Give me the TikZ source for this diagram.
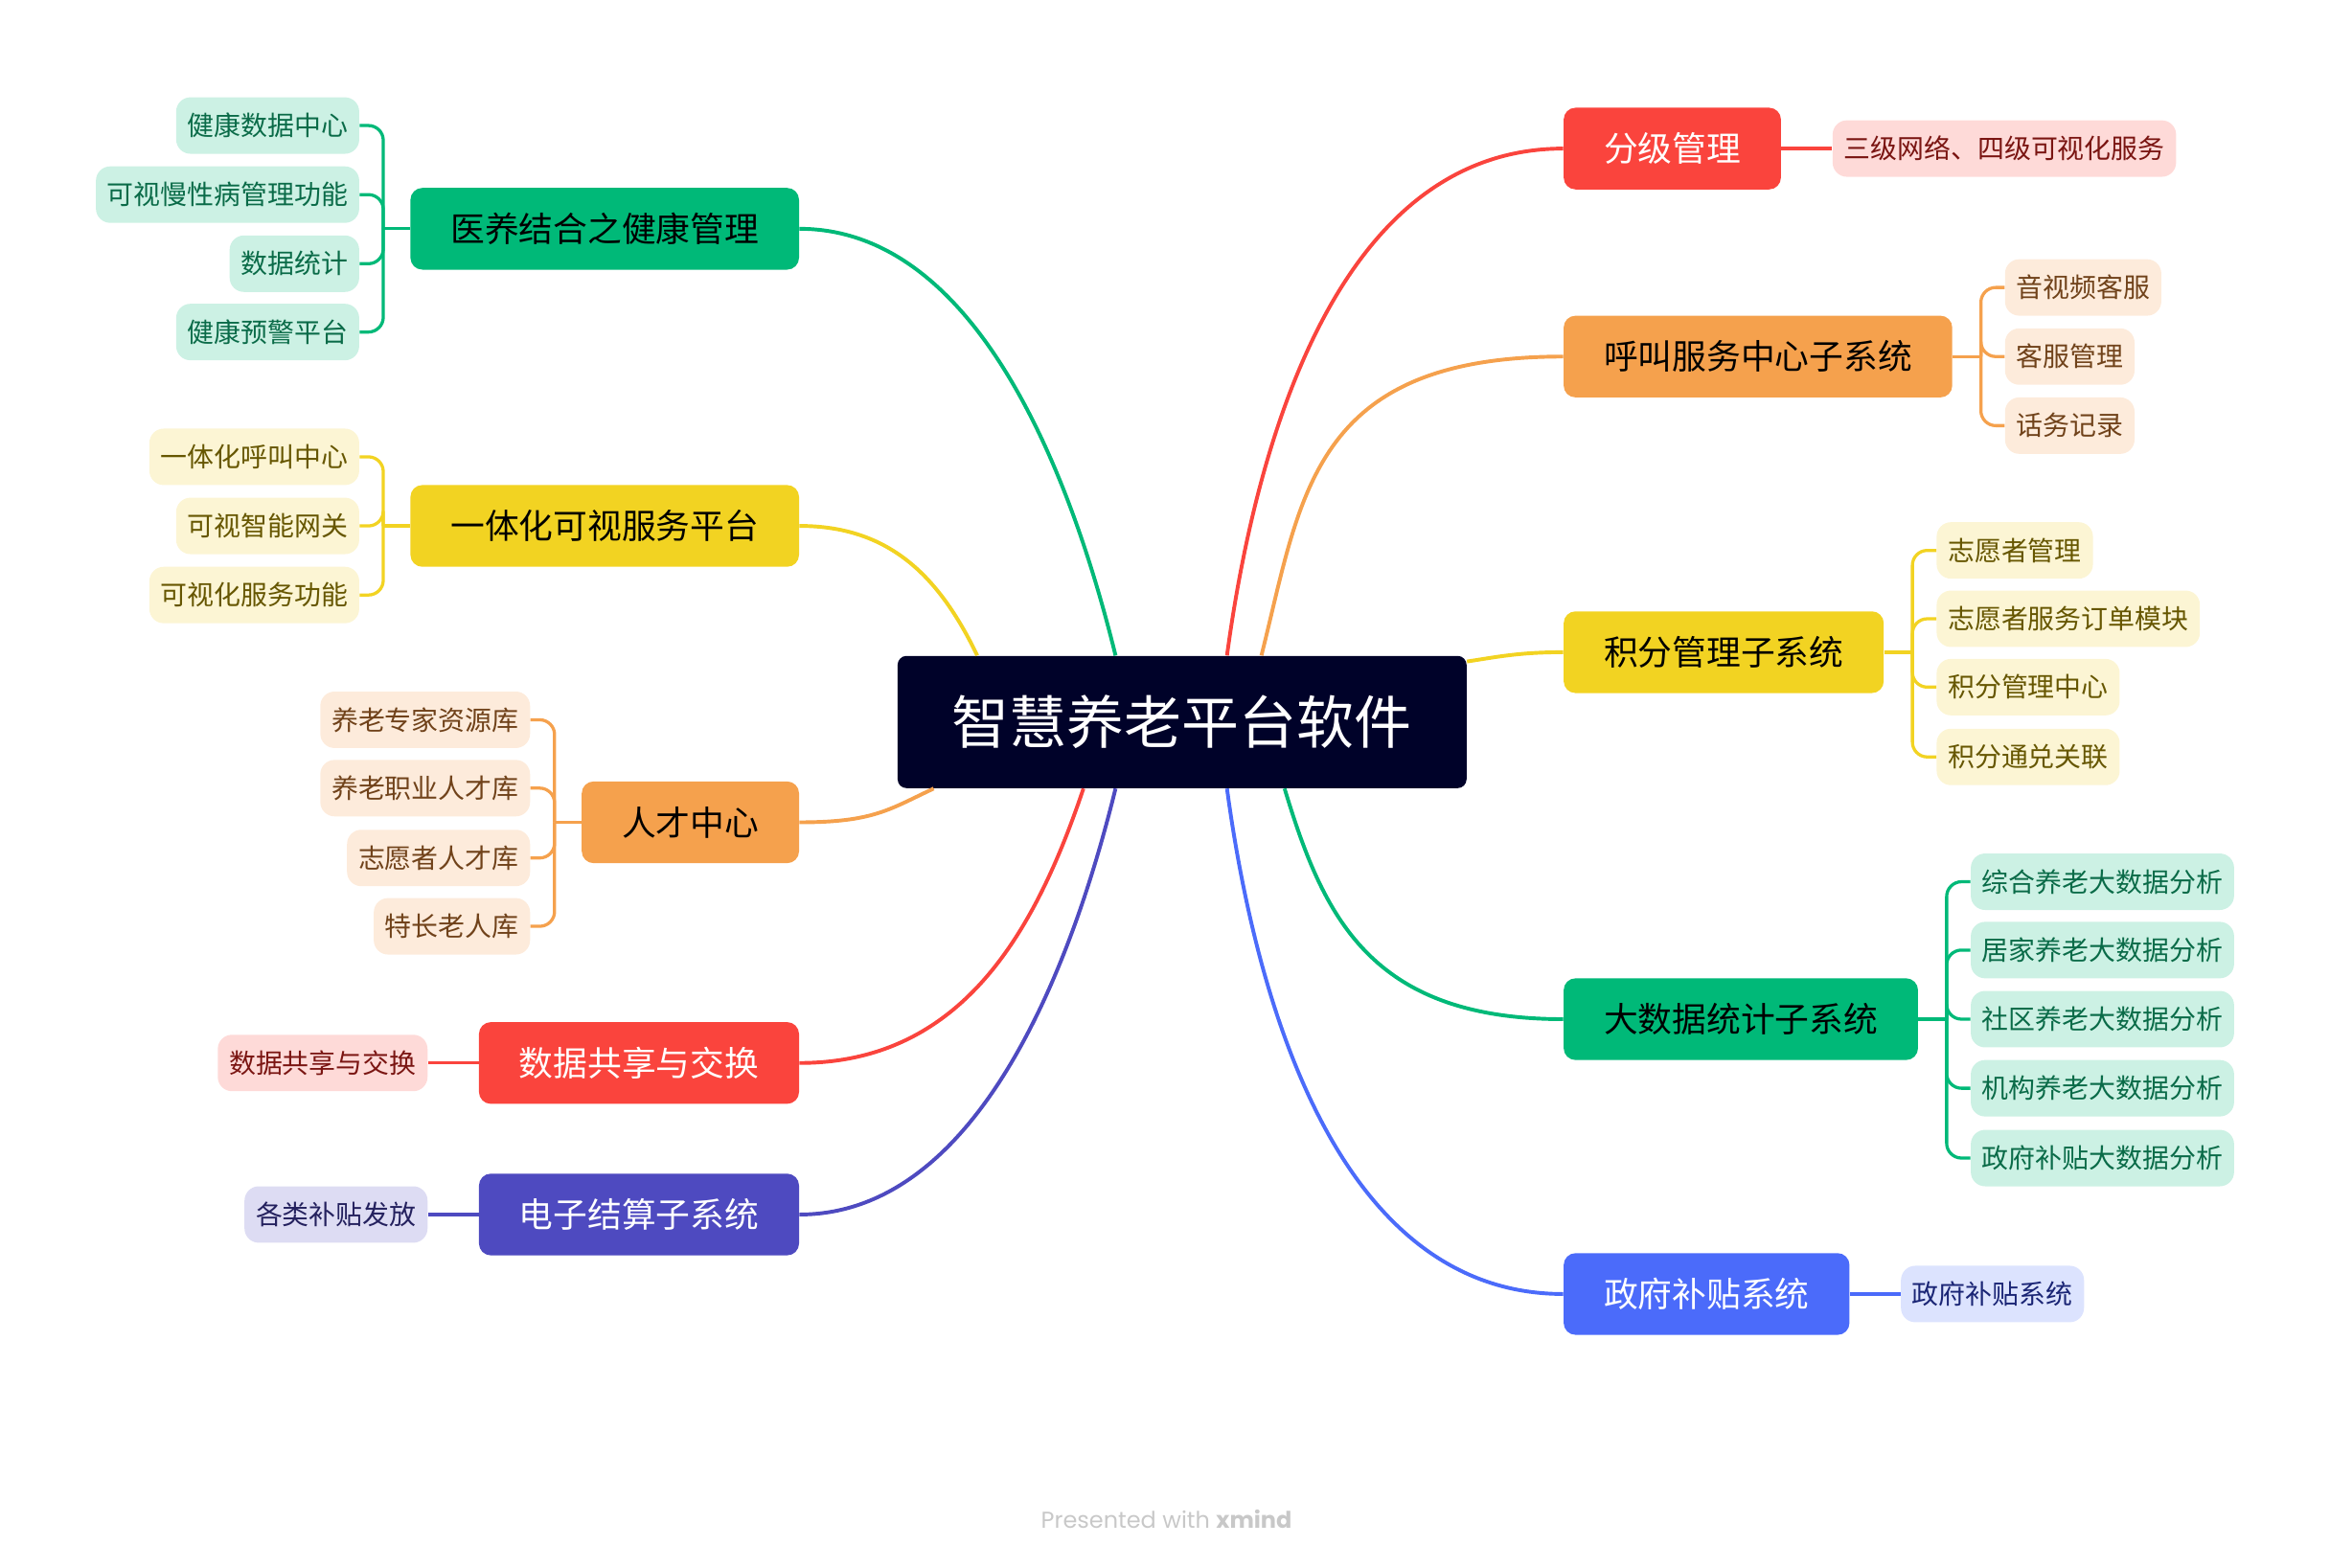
\documentclass[tikz,border=0pt]{standalone}
\usepackage{fontspec}
\setmainfont{Noto Sans CJK SC}
\newfontfamily\wmfont{Poppins}

\definecolor{rootc}{HTML}{000229}
\definecolor{grn}{HTML}{00B978}
\definecolor{grnl}{HTML}{CCF1E4}
\definecolor{grnt}{HTML}{0A6B48}
\definecolor{ylw}{HTML}{F2D322}
\definecolor{ylwl}{HTML}{FCF5D4}
\definecolor{ylwt}{HTML}{665600}
\definecolor{org}{HTML}{F5A14D}
\definecolor{orgl}{HTML}{FDEBDB}
\definecolor{orgt}{HTML}{70421A}
\definecolor{rd}{HTML}{FA443D}
\definecolor{rdl}{HTML}{FEDAD8}
\definecolor{rdt}{HTML}{7A1512}
\definecolor{ind}{HTML}{4E4AC0}
\definecolor{indl}{HTML}{DDDCF3}
\definecolor{indt}{HTML}{24215E}
\definecolor{blu}{HTML}{4B6BFA}
\definecolor{blul}{HTML}{DCE3FE}
\definecolor{blut}{HTML}{1A2575}
\definecolor{wm}{HTML}{C8C8C8}

\begin{document}
\begin{tikzpicture}[x=0.25mm,y=-0.25mm,every node/.style={inner ysep=0pt},
    rootbox/.style={fill=rootc, text=white, rounded corners=1.5mm, minimum height=22.25mm, inner xsep=9.2mm, font=\fontsize{27.5}{30}\selectfont},
    mainbox/.style={rounded corners=2mm, minimum height=13.75mm, inner xsep=6.75mm, font=\fontsize{16.4}{18}\selectfont},
    subbox/.style={rounded corners=2.4mm, minimum height=9.5mm, inner xsep=1.9mm, font=\fontsize{12.8}{14}\selectfont},
    mainG/.style={mainbox, fill=grn},
    mainY/.style={mainbox, fill=ylw},
    mainO/.style={mainbox, fill=org},
    mainR/.style={mainbox, fill=rd, text=white},
    mainI/.style={mainbox, fill=ind, text=white},
    mainB/.style={mainbox, fill=blu, text=white},
    subG/.style={subbox, fill=grnl, text=grnt},
    subY/.style={subbox, fill=ylwl, text=ylwt},
    subO/.style={subbox, fill=orgl, text=orgt},
    subR/.style={subbox, fill=rdl, text=rdt},
    subI/.style={subbox, fill=indl, text=indt},
    subB/.style={subbox, fill=blul, text=blut},
    lnk/.style={line width=1.8pt},
    frk/.style={line width=1.5pt, rounded corners=2.5mm}]
    \useasboundingbox (0,0) rectangle (1568,1054.8);

    \node (root)[rootbox] at (795.5,486) {智慧养老平台软件};

    % left side
    \node (hm)[mainG, anchor=east] at (538,154) {医养结合之健康管理};
    \node (yt)[mainY, anchor=east] at (538,354) {一体化可视服务平台};
    \node (rc)[mainO, anchor=east] at (538,553.5) {人才中心};
    \node (sj)[mainR, anchor=east] at (538,715.5) {数据共享与交换};
    \node (dz)[mainI, anchor=east] at (538,817.5) {电子结算子系统};

    \node (hm1)[subG, anchor=east] at (242,84.5)  {健康数据中心};
    \node (hm2)[subG, anchor=east] at (242,131)   {可视慢性病管理功能};
    \node (hm3)[subG, anchor=east] at (242,177.5) {数据统计};
    \node (hm4)[subG, anchor=east] at (242,223.5) {健康预警平台};

    \node (yt1)[subY, anchor=east] at (242,307.5) {一体化呼叫中心};
    \node (yt2)[subY, anchor=east] at (242,354)   {可视智能网关};
    \node (yt3)[subY, anchor=east] at (242,400.5) {可视化服务功能};

    \node (rc1)[subO, anchor=east] at (357,484.5) {养老专家资源库};
    \node (rc2)[subO, anchor=east] at (357,530.5) {养老职业人才库};
    \node (rc3)[subO, anchor=east] at (357,577.5) {志愿者人才库};
    \node (rc4)[subO, anchor=east] at (357,623.5) {特长老人库};

    \node (sj1)[subR, anchor=east] at (288,715.5) {数据共享与交换};
    \node (dz1)[subI, anchor=east] at (288,817.5) {各类补贴发放};

    % right side
    \node (fj)[mainR, anchor=west] at (1052,100)   {分级管理};
    \node (hj)[mainO, anchor=west] at (1052,240)   {呼叫服务中心子系统};
    \node (jf)[mainY, anchor=west] at (1052,439)   {积分管理子系统};
    \node (ds)[mainG, anchor=west] at (1052,686)   {大数据统计子系统};
    \node (zf)[mainB, anchor=west] at (1052,871)   {政府补贴系统};

    \node (fj1)[subR, anchor=west] at (1233,100)   {三级网络、四级可视化服务};

    \node (hj1)[subO, anchor=west] at (1349,193.5) {音视频客服};
    \node (hj2)[subO, anchor=west] at (1349,240)   {客服管理};
    \node (hj3)[subO, anchor=west] at (1349,286.5) {话务记录};

    \node (jf1)[subY, anchor=west] at (1303,370.5) {志愿者管理};
    \node (jf2)[subY, anchor=west] at (1303,416.5) {志愿者服务订单模块};
    \node (jf3)[subY, anchor=west] at (1303,462.5) {积分管理中心};
    \node (jf4)[subY, anchor=west] at (1303,509.5) {积分通兑关联};

    \node (ds1)[subG, anchor=west] at (1326,593.5) {综合养老大数据分析};
    \node (ds2)[subG, anchor=west] at (1326,639.5) {居家养老大数据分析};
    \node (ds3)[subG, anchor=west] at (1326,686)   {社区养老大数据分析};
    \node (ds4)[subG, anchor=west] at (1326,732.5) {机构养老大数据分析};
    \node (ds5)[subG, anchor=west] at (1326,779.5) {政府补贴大数据分析};

    \node (zf1)[subB, anchor=west] at (1279,871)   {政府补贴系统};

    \node (wmark)[font=\wmfont\fontsize{11}{13}\selectfont, text=wm] at (785,1022.5)
      {Presented with \textbf{xmind}};

    \coordinate (hmj) at ([xshift=-4.5mm]hm.west);
    \coordinate (ytj) at ([xshift=-4.5mm]yt.west);
    \coordinate (rcj) at ([xshift=-4.5mm]rc.west);
    \coordinate (hjj) at ([xshift=4.75mm]hj.east);
    \coordinate (jfj) at ([xshift=4.75mm]jf.east);
    \coordinate (dsj) at ([xshift=4.75mm]ds.east);

    % root to main topics
    \foreach \from/\ux/\vx/\vy/\to/\col in
      {hm.east/110/-36/-146/135/grn,
       yt.east/60/-26/-54/162/ylw,
       rc.east/50/-30/14/195/org,
       sj.east/110/-32/95/214/rd,
       dz.east/110/-36/146/225/ind,
       fj.west/-150/20/-148/56/rd,
       hj.west/-170/27/-107/40/org,
       jf.west/-30/20/-3/12/ylw,
       ds.west/-130/26/86/327/grn,
       zf.west/-150/20/148/304/blu}
    \draw[lnk, draw=\col] (\from) .. controls +(\ux,0) and +(\vx,\vy) .. (root.\to);

    % main topics to subtopics
    \foreach \from/\to/\col in
      {hm.west/hmj/grn, yt.west/ytj/ylw, rc.west/rcj/org,
       sj.west/sj1.east/rd, dz.west/dz1.east/ind,
       fj.east/fj1.west/rd, hj.east/hjj/org, jf.east/jfj/ylw,
       ds.east/dsj/grn, zf.east/zf1.west/blu}
    \draw[frk, draw=\col] (\from) -- (\to);

    \foreach \from/\to/\col in
      {hmj/hm1.east/grn, hmj/hm2.east/grn, hmj/hm3.east/grn, hmj/hm4.east/grn,
       ytj/yt1.east/ylw, ytj/yt2.east/ylw, ytj/yt3.east/ylw,
       rcj/rc1.east/org, rcj/rc2.east/org, rcj/rc3.east/org, rcj/rc4.east/org,
       hjj/hj1.west/org, hjj/hj2.west/org, hjj/hj3.west/org,
       jfj/jf1.west/ylw, jfj/jf2.west/ylw, jfj/jf3.west/ylw, jfj/jf4.west/ylw,
       dsj/ds1.west/grn, dsj/ds2.west/grn, dsj/ds3.west/grn, dsj/ds4.west/grn, dsj/ds5.west/grn}
    \draw[frk, draw=\col] (\from) |- (\to);
\end{tikzpicture}
\end{document}
